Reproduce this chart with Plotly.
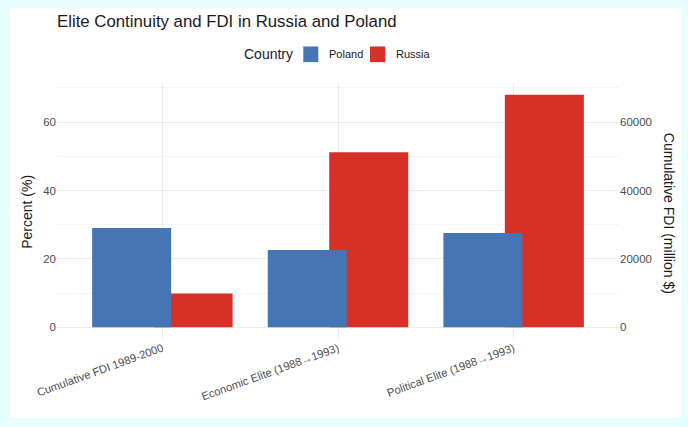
import plotly.graph_objects as go

categories = ["Cumulative FDI 1989-2000", "Economic Elite (1988→1993)", "Political Elite (1988→1993)"]
countries = ["Poland", "Russia"]
colors = {"Poland": "#4575B4", "Russia": "#D73027"}

# FDI in million $ (right axis), elite continuity in percent (left axis)
fdi_poland = [29000]
fdi_russia = [9900]
elite_poland = [22.6, 27.6]
elite_russia = [51.2, 68.0]

y_max = 68.0
y_lo, y_hi = -0.05 * y_max, 1.05 * y_max

W = 0.45
OFF = 0.175
off = {"Poland": -OFF - W / 2, "Russia": OFF - W / 2}

fig = go.Figure()
# Russia first so Poland draws on top
for c, fdi, elite in [("Russia", fdi_russia, elite_russia), ("Poland", fdi_poland, elite_poland)]:
    fig.add_trace(go.Bar(x=categories[1:], y=elite, name=c, marker=dict(color=colors[c], line=dict(width=0)),
                         width=W, offset=off[c], showlegend=False, yaxis="y", hoverinfo="x+y"))
    fig.add_trace(go.Bar(x=categories[:1], y=fdi, name=c, marker=dict(color=colors[c], line=dict(width=0)),
                         width=W, offset=off[c], showlegend=False, yaxis="y2", hoverinfo="x+y"))

font = "Liberation Sans, Arial, sans-serif"
BG = "#E6FFFE"

# plot-area geometry in pixels (used for placing the hand-built legend)
PX0, PX1, PY0, PY1 = 57.0, 619.0, 339.4, 82.9
def px(x):
    return (x - PX0) / (PX1 - PX0)
def py(y):
    return (PY0 - y) / (PY0 - PY1)

annotations = [
    dict(text="Country", x=px(295), y=py(54), xref="paper", yref="paper", xanchor="right", yanchor="middle",
         showarrow=False, font=dict(size=14, color="#1A1A1A")),
    dict(text="Percent (%)", x=px(27), y=py(212), xref="paper", yref="paper", xanchor="center", yanchor="middle",
         textangle=-90, showarrow=False, font=dict(size=14, color="#1A1A1A")),
    dict(text="Cumulative FDI (million $)", x=px(669), y=py(213), xref="paper", yref="paper", xanchor="center",
         yanchor="middle", textangle=90, showarrow=False, font=dict(size=14, color="#1A1A1A")),
]
shapes = [dict(type="rect", xref="paper", yref="paper", x0=px(10), x1=px(681), y0=py(418), y1=py(8),
               fillcolor="white", line=dict(width=0), layer="below")]
legend_pos = {"Poland": (303.3, 318.3, 327), "Russia": (370, 385.3, 394.3)}
for c in countries:
    s0, s1, tx = legend_pos[c]
    shapes.append(dict(type="rect", xref="paper", yref="paper", x0=px(s0), x1=px(s1), y0=py(62), y1=py(46.3),
                       fillcolor=colors[c], line=dict(width=0), layer="above"))
    annotations.append(dict(text=c, x=px(tx), y=py(54), xref="paper", yref="paper", xanchor="left",
                            yanchor="middle", showarrow=False, font=dict(size=11, color="#1A1A1A")))

fig.update_layout(
    width=688, height=427,
    margin=dict(l=57, r=69, t=83, b=88),
    paper_bgcolor=BG,
    plot_bgcolor="rgba(0,0,0,0)",
    barmode="overlay",
    showlegend=False,
    font=dict(family=font, color="#4D4D4D"),
    title=dict(text="Elite Continuity and FDI in Russia and Poland", xref="paper", x=0, xanchor="left",
               yref="container", y=1 - 21 / 427, yanchor="middle", font=dict(size=16.8, color="#1A1A1A")),
    xaxis=dict(type="category", categoryorder="array", categoryarray=categories, range=[-0.6, 2.6],
               showgrid=True, gridcolor="#EBEBEB", gridwidth=1, tickangle=-20,
               tickfont=dict(size=11.2, color="#4D4D4D"), showline=False, zeroline=False, ticks=""),
    yaxis=dict(range=[y_lo, y_hi], tickvals=[0, 20, 40, 60], showgrid=True, gridcolor="#EBEBEB", gridwidth=1,
               minor=dict(tickvals=[10, 30, 50, 70], showgrid=True, gridcolor="#F5F5F5", gridwidth=1),
               zeroline=False, showline=False, ticks="",
               tickfont=dict(size=11.5, color="#4D4D4D")),
    yaxis2=dict(overlaying="y", side="right", range=[y_lo * 1000, y_hi * 1000], tickformat="d",
                tickvals=[0, 20000, 40000, 60000], showgrid=False, zeroline=False, showline=False, ticks="",
                tickfont=dict(size=11.5, color="#4D4D4D")),
    annotations=annotations,
    shapes=shapes,
)

fig.write_html("out.html", config={"displayModeBar": False},
               post_script="document.body.style.margin='0';document.body.style.background='%s';" % BG)
